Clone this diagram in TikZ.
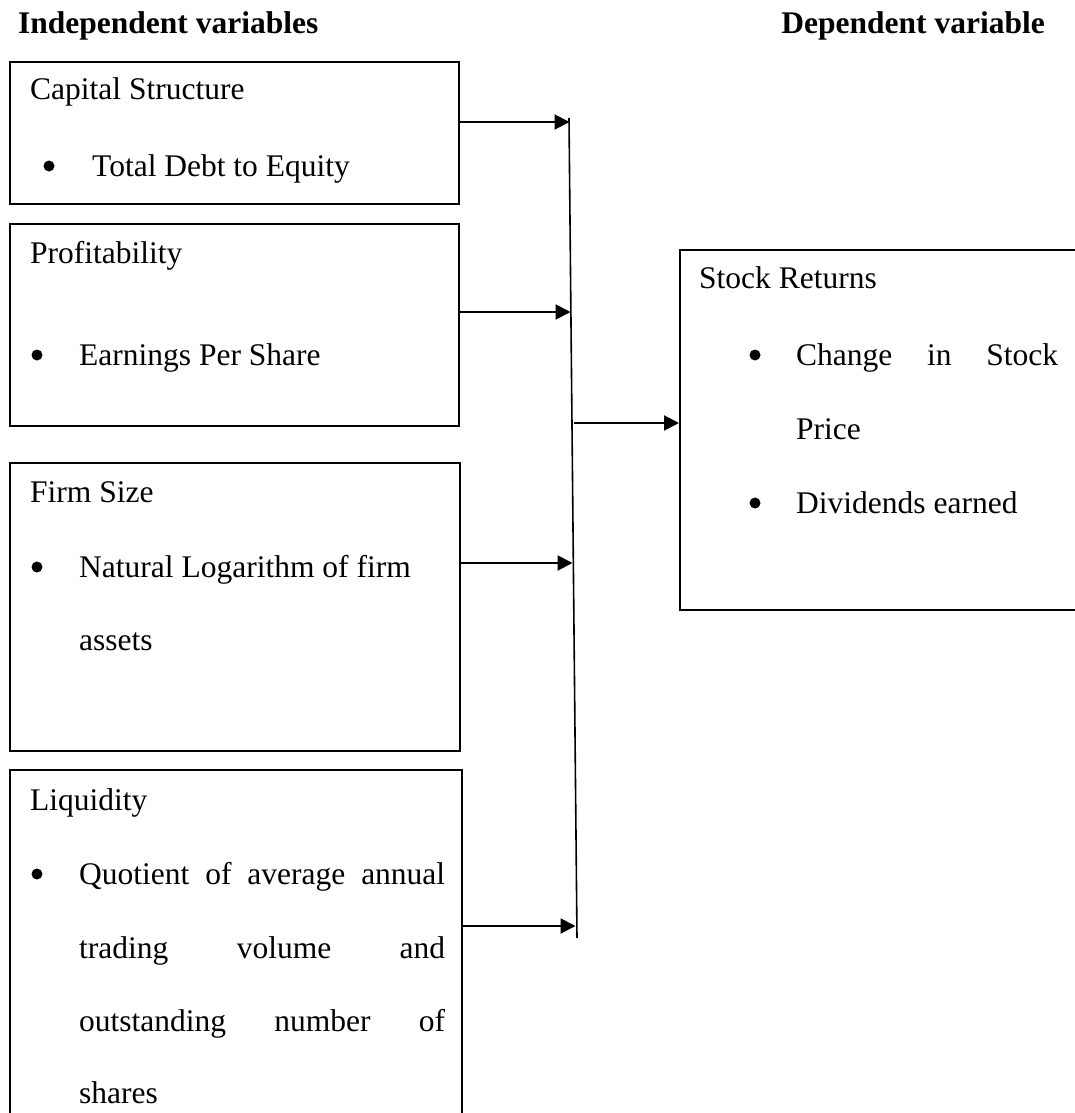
\documentclass[tikz,border=0pt]{standalone}
\usepackage{fontspec}
\setmainfont{Liberation Serif}
\usetikzlibrary{arrows.meta}
\begin{document}
\begin{tikzpicture}[x=1pt,y=-1pt,
  box/.style={draw, line width=2pt, inner sep=0pt, anchor=north west},
  txt/.style={anchor=base west, inner sep=0pt, font=\fontsize{31.5}{36}\selectfont},
  hd/.style={anchor=base west, inner sep=0pt, font=\fontsize{31.5}{36}\selectfont\bfseries},
  bul/.style={circle, fill=black, inner sep=0pt, minimum size=11pt},
  arr/.style={line width=2pt, -{Triangle[length=15pt,width=15pt]}},
  vline/.style={line width=1.6pt}
]
\useasboundingbox (0,0) rectangle (1075,1113);
\clip (0,0) rectangle (1075,1113);

% headings
\node[hd] (hind) at (18,34) {Independent variables};
\node[hd, anchor=base east] (hdep) at (1045,34) {Dependent variable};

% boxes
\node[box, minimum width=449pt, minimum height=142pt] (b1) at (9,61) {};
\node[box, minimum width=449pt, minimum height=202pt] (b2) at (9,223) {};
\node[box, minimum width=450pt, minimum height=288pt] (b3) at (9,462) {};
\node[box, minimum width=452pt, minimum height=380pt] (b4) at (9,769) {};
\node[box, minimum width=420pt, minimum height=360pt] (b5) at (679,249) {};

% box 1 text
\node[txt] (t1a) at (30,100) {Capital Structure};
\node[bul] (t1b) at (49,166) {};
\node[txt] (t1c) at (92,176) {Total Debt to Equity};

% box 2 text
\node[txt] (t2a) at (30,263) {Profitability};
\node[bul] (t2b) at (37,355) {};
\node[txt] (t2c) at (79,365) {Earnings Per Share};

% box 3 text
\node[txt] (t3a) at (30,502) {Firm Size};
\node[bul] (t3b) at (37,567) {};
\node[txt] (t3c) at (79,577) {Natural Logarithm of firm};
\node[txt] (t3d) at (79,650) {assets};

% box 4 text
\node[txt] (t4a) at (30,810) {Liquidity};
\node[bul] (t4b) at (37,874) {};
\node[txt] (t4c) at (79,884) {\makebox[366pt][s]{Quotient of average annual}};
\node[txt] (t4d) at (79,958) {\makebox[366pt][s]{trading volume and}};
\node[txt] (t4e) at (79,1031) {\makebox[366pt][s]{outstanding number of}};
\node[txt] (t4f) at (79,1103) {shares};

% box 5 text
\node[txt] (t5a) at (699,288) {Stock Returns};
\node[bul] (t5b) at (755,355) {};
\node[txt] (t5c) at (796,365) {\makebox[262pt][s]{Change in Stock}};
\node[txt] (t5d) at (796,439) {Price};
\node[bul] (t5e) at (755,503) {};
\node[txt] (t5f) at (796,513) {Dividends earned};

% vertical collector line
\coordinate (vt) at (569,118);
\coordinate (vb) at (577,938);
\draw[vline] (vt) -- (vb);

% arrow targets on the line
\coordinate (a1) at (569.5,122);
\coordinate (a2) at (570.5,312);
\coordinate (a3) at (572.5,563);
\coordinate (a4) at (575.5,926);
\coordinate (a5) at (574,423);

\draw[arr] (a1 -| b1.east) -- (a1);
\draw[arr] (a2 -| b2.east) -- (a2);
\draw[arr] (a3 -| b3.east) -- (a3);
\draw[arr] (a4 -| b4.east) -- (a4);
\draw[arr] (a5) -- (a5 -| b5.west);
\end{tikzpicture}
\end{document}
